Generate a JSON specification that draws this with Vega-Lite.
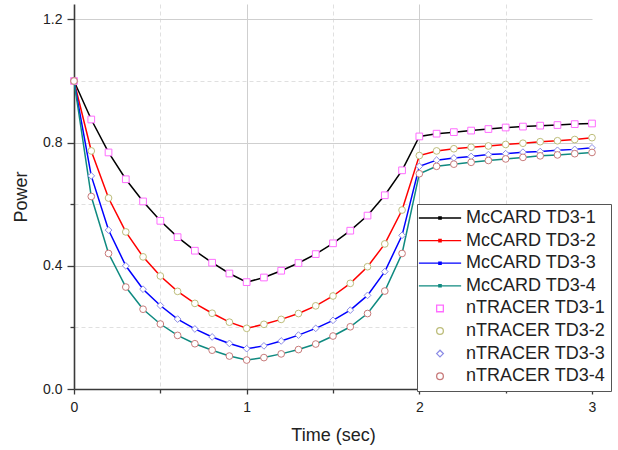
{
"$schema": "https://vega.github.io/schema/vega-lite/v6.json",
"width": 518, "height": 385,
"autosize": "none",
"padding": {"left": 74, "top": 4, "right": 26, "bottom": 61},
"background": "white",
"config": {"font": "Liberation Sans", "view": {"stroke": null},
  "legend": {"strokeColor": "#555555", "fillColor": "white", "padding": 5, "labelFontSize": 18, "labelColor": "#222222", "labelFont": "Liberation Sans", "symbolSize": 45, "symbolStrokeWidth": 1.3, "symbolFillColor": "white", "symbolOffset": 9, "labelOffset": 17, "rowPadding": 4.6, "labelLimit": 300}},
"datasets": {
"names": [
{"g":"TD3-1","m":"McCARD TD3-1","n":"nTRACER TD3-1"},
{"g":"TD3-2","m":"McCARD TD3-2","n":"nTRACER TD3-2"},
{"g":"TD3-3","m":"McCARD TD3-3","n":"nTRACER TD3-3"},
{"g":"TD3-4","m":"McCARD TD3-4","n":"nTRACER TD3-4"}],
"v": [
{"g":"TD3-1","t":0.0,"p":1.0},{"g":"TD3-1","t":0.1,"p":0.875},{"g":"TD3-1","t":0.2,"p":0.768},{"g":"TD3-1","t":0.3,"p":0.681},{"g":"TD3-1","t":0.4,"p":0.609},{"g":"TD3-1","t":0.5,"p":0.546},{"g":"TD3-1","t":0.6,"p":0.493},{"g":"TD3-1","t":0.7,"p":0.449},{"g":"TD3-1","t":0.8,"p":0.410},{"g":"TD3-1","t":0.9,"p":0.375},{"g":"TD3-1","t":1.0,"p":0.347},{"g":"TD3-1","t":1.1,"p":0.362},{"g":"TD3-1","t":1.2,"p":0.384},{"g":"TD3-1","t":1.3,"p":0.409},{"g":"TD3-1","t":1.4,"p":0.438},{"g":"TD3-1","t":1.5,"p":0.473},{"g":"TD3-1","t":1.6,"p":0.514},{"g":"TD3-1","t":1.7,"p":0.563},{"g":"TD3-1","t":1.8,"p":0.629},{"g":"TD3-1","t":1.9,"p":0.710},{"g":"TD3-1","t":2.0,"p":0.820},{"g":"TD3-1","t":2.1,"p":0.829},{"g":"TD3-1","t":2.2,"p":0.834},{"g":"TD3-1","t":2.3,"p":0.839},{"g":"TD3-1","t":2.4,"p":0.844},{"g":"TD3-1","t":2.5,"p":0.849},{"g":"TD3-1","t":2.6,"p":0.852},{"g":"TD3-1","t":2.7,"p":0.855},{"g":"TD3-1","t":2.8,"p":0.857},{"g":"TD3-1","t":2.9,"p":0.860},{"g":"TD3-1","t":3.0,"p":0.862},
{"g":"TD3-2","t":0.0,"p":1.0},{"g":"TD3-2","t":0.1,"p":0.773},{"g":"TD3-2","t":0.2,"p":0.620},{"g":"TD3-2","t":0.3,"p":0.510},{"g":"TD3-2","t":0.4,"p":0.429},{"g":"TD3-2","t":0.5,"p":0.367},{"g":"TD3-2","t":0.6,"p":0.317},{"g":"TD3-2","t":0.7,"p":0.278},{"g":"TD3-2","t":0.8,"p":0.246},{"g":"TD3-2","t":0.9,"p":0.217},{"g":"TD3-2","t":1.0,"p":0.197},{"g":"TD3-2","t":1.1,"p":0.210},{"g":"TD3-2","t":1.2,"p":0.226},{"g":"TD3-2","t":1.3,"p":0.245},{"g":"TD3-2","t":1.4,"p":0.270},{"g":"TD3-2","t":1.5,"p":0.302},{"g":"TD3-2","t":1.6,"p":0.343},{"g":"TD3-2","t":1.7,"p":0.397},{"g":"TD3-2","t":1.8,"p":0.471},{"g":"TD3-2","t":1.9,"p":0.581},{"g":"TD3-2","t":2.0,"p":0.758},{"g":"TD3-2","t":2.1,"p":0.773},{"g":"TD3-2","t":2.2,"p":0.780},{"g":"TD3-2","t":2.3,"p":0.785},{"g":"TD3-2","t":2.4,"p":0.789},{"g":"TD3-2","t":2.5,"p":0.794},{"g":"TD3-2","t":2.6,"p":0.798},{"g":"TD3-2","t":2.7,"p":0.803},{"g":"TD3-2","t":2.8,"p":0.806},{"g":"TD3-2","t":2.9,"p":0.810},{"g":"TD3-2","t":3.0,"p":0.816},
{"g":"TD3-3","t":0.0,"p":1.0},{"g":"TD3-3","t":0.1,"p":0.692},{"g":"TD3-3","t":0.2,"p":0.516},{"g":"TD3-3","t":0.3,"p":0.400},{"g":"TD3-3","t":0.4,"p":0.324},{"g":"TD3-3","t":0.5,"p":0.271},{"g":"TD3-3","t":0.6,"p":0.227},{"g":"TD3-3","t":0.7,"p":0.195},{"g":"TD3-3","t":0.8,"p":0.169},{"g":"TD3-3","t":0.9,"p":0.148},{"g":"TD3-3","t":1.0,"p":0.131},{"g":"TD3-3","t":1.1,"p":0.140},{"g":"TD3-3","t":1.2,"p":0.156},{"g":"TD3-3","t":1.3,"p":0.175},{"g":"TD3-3","t":1.4,"p":0.197},{"g":"TD3-3","t":1.5,"p":0.223},{"g":"TD3-3","t":1.6,"p":0.256},{"g":"TD3-3","t":1.7,"p":0.304},{"g":"TD3-3","t":1.8,"p":0.381},{"g":"TD3-3","t":1.9,"p":0.499},{"g":"TD3-3","t":2.0,"p":0.723},{"g":"TD3-3","t":2.1,"p":0.743},{"g":"TD3-3","t":2.2,"p":0.750},{"g":"TD3-3","t":2.3,"p":0.755},{"g":"TD3-3","t":2.4,"p":0.761},{"g":"TD3-3","t":2.5,"p":0.764},{"g":"TD3-3","t":2.6,"p":0.769},{"g":"TD3-3","t":2.7,"p":0.771},{"g":"TD3-3","t":2.8,"p":0.775},{"g":"TD3-3","t":2.9,"p":0.778},{"g":"TD3-3","t":3.0,"p":0.783},
{"g":"TD3-4","t":0.0,"p":1.0},{"g":"TD3-4","t":0.1,"p":0.625},{"g":"TD3-4","t":0.2,"p":0.440},{"g":"TD3-4","t":0.3,"p":0.331},{"g":"TD3-4","t":0.4,"p":0.259},{"g":"TD3-4","t":0.5,"p":0.211},{"g":"TD3-4","t":0.6,"p":0.174},{"g":"TD3-4","t":0.7,"p":0.147},{"g":"TD3-4","t":0.8,"p":0.126},{"g":"TD3-4","t":0.9,"p":0.107},{"g":"TD3-4","t":1.0,"p":0.094},{"g":"TD3-4","t":1.1,"p":0.102},{"g":"TD3-4","t":1.2,"p":0.114},{"g":"TD3-4","t":1.3,"p":0.128},{"g":"TD3-4","t":1.4,"p":0.146},{"g":"TD3-4","t":1.5,"p":0.172},{"g":"TD3-4","t":1.6,"p":0.202},{"g":"TD3-4","t":1.7,"p":0.245},{"g":"TD3-4","t":1.8,"p":0.318},{"g":"TD3-4","t":1.9,"p":0.440},{"g":"TD3-4","t":2.0,"p":0.699},{"g":"TD3-4","t":2.1,"p":0.723},{"g":"TD3-4","t":2.2,"p":0.730},{"g":"TD3-4","t":2.3,"p":0.736},{"g":"TD3-4","t":2.4,"p":0.742},{"g":"TD3-4","t":2.5,"p":0.747},{"g":"TD3-4","t":2.6,"p":0.752},{"g":"TD3-4","t":2.7,"p":0.757},{"g":"TD3-4","t":2.8,"p":0.760},{"g":"TD3-4","t":2.9,"p":0.764},{"g":"TD3-4","t":3.0,"p":0.768}
]},
"data": {"name": "v"},
"transform": [{"lookup": "g", "from": {"data": {"name": "names"}, "key": "g", "fields": ["m", "n"]}}],
"resolve": {"axis": {"x": "independent", "y": "independent"}, "legend": {"color": "independent", "shape": "independent"}},
"layer": [
 {"mark": {"type": "line", "strokeWidth": 1.5},
  "encoding": {
   "x": {"field": "t", "type": "quantitative", "scale": {"domain": [0, 3], "nice": false, "zero": false},
     "axis": {"orient": "bottom", "values": [0, 1, 2, 3], "grid": false, "domainColor": "#3a3a3a", "domainWidth": 1.6, "tickColor": "#3a3a3a", "tickWidth": 1.3, "tickSize": 5, "labelFontSize": 14, "labelColor": "#222222", "labelPadding": 6, "labelFlush": false, "title": "Time (sec)", "titleFontSize": 18, "titleFontWeight": "normal", "titleColor": "#222222", "titlePadding": 12}},
   "y": {"field": "p", "type": "quantitative", "scale": {"domain": [0, 1.25], "nice": false, "zero": false},
     "axis": {"orient": "left", "values": [0, 0.4, 0.8, 1.2], "format": ".1f", "grid": false, "domainColor": "#3a3a3a", "domainWidth": 1.6, "tickColor": "#3a3a3a", "tickWidth": 1.3, "tickSize": 7, "labelFontSize": 14, "labelColor": "#222222", "labelPadding": 5, "title": "Power", "titleFontSize": 18, "titleFontWeight": "normal", "titleColor": "#222222", "titlePadding": 12}},
   "color": {"field": "m", "type": "nominal",
     "scale": {"domain": ["McCARD TD3-1", "McCARD TD3-2", "McCARD TD3-3", "McCARD TD3-4", "nTRACER TD3-1", "nTRACER TD3-2", "nTRACER TD3-3", "nTRACER TD3-4"],
       "range": ["#000000", "#ff0000", "#0000ff", "#0f8a80", "#ff6cff", "#bdbd7a", "#8c8ce6", "#c87a7a"]},
     "legend": null}
  }},
 {"mark": {"type": "point", "filled": true, "size": 5},
  "encoding": {
   "x": {"field": "t", "type": "quantitative", "axis": {"orient": "bottom", "values": [1, 2], "grid": true, "gridColor": "#cfcfcf", "gridWidth": 1, "labels": false, "ticks": false, "domain": false, "title": null}},
   "y": {"field": "p", "type": "quantitative", "axis": {"orient": "left", "values": [0.4, 0.8, 1.2], "grid": true, "gridColor": "#cfcfcf", "gridWidth": 1, "labels": false, "ticks": false, "domain": false, "title": null}},
   "color": {"field": "m", "type": "nominal", "legend": null}
  }},
 {"mark": {"type": "point", "filled": false, "fill": "white", "size": 45, "strokeWidth": 1, "opacity": 1},
  "encoding": {
   "x": {"field": "t", "type": "quantitative", "axis": {"orient": "bottom", "values": [0.5, 1.5, 2.5], "grid": true, "gridColor": "#e0e0e0", "gridDash": [4, 3], "gridWidth": 1, "labels": false, "ticks": true, "tickSize": 4, "tickColor": "#3a3a3a", "tickWidth": 1.3, "domain": false, "title": null}},
   "y": {"field": "p", "type": "quantitative", "axis": {"orient": "left", "values": [0.2, 0.6, 1.0], "grid": true, "gridColor": "#e0e0e0", "gridDash": [4, 3], "gridWidth": 1, "labels": false, "ticks": true, "tickSize": 4, "tickColor": "#3a3a3a", "tickWidth": 1.3, "domain": false, "title": null}},
   "color": {"field": "n", "type": "nominal",
     "legend": {"title": null, "orient": "none", "legendX": 343, "legendY": 200}},
   "shape": {"field": "n", "type": "nominal",
     "scale": {"domain": ["McCARD TD3-1", "McCARD TD3-2", "McCARD TD3-3", "McCARD TD3-4", "nTRACER TD3-1", "nTRACER TD3-2", "nTRACER TD3-3", "nTRACER TD3-4"],
       "range": ["M-6.3,0H6.3M-0.35,-0.35H0.35V0.35H-0.35Z", "M-6.3,0H6.3M-0.35,-0.35H0.35V0.35H-0.35Z", "M-6.3,0H6.3M-0.35,-0.35H0.35V0.35H-0.35Z", "M-6.3,0H6.3M-0.35,-0.35H0.35V0.35H-0.35Z", "square", "circle", "diamond", "circle"]},
     "legend": {"title": null, "orient": "none", "legendX": 343, "legendY": 200}}
  }}
]
}
